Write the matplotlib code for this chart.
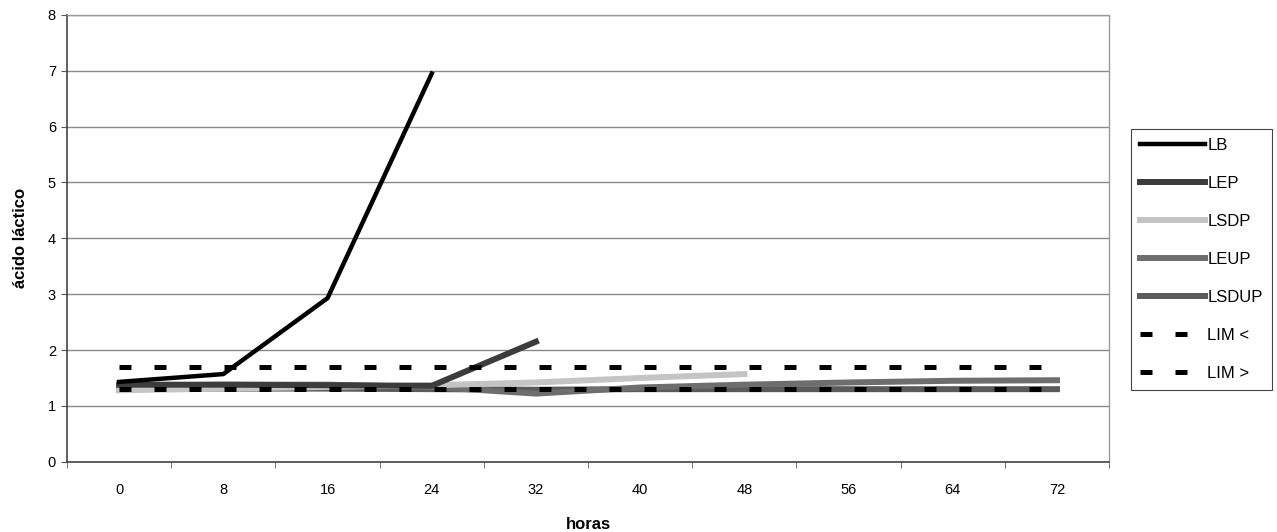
import numpy as np
import matplotlib
matplotlib.use("Agg")
import matplotlib.pyplot as plt

plt.rcParams['font.family'] = ['Liberation Sans', 'DejaVu Sans']

# categories on the x axis (hours)
horas = ['0', '8', '16', '24', '32', '40', '48', '56', '64', '72']

# series values (shorter series stop early)
lb = [1.43, 1.57, 2.93, 6.95]
lep = [1.38, 1.38, 1.37, 1.36, 2.15]
lsdp = [1.28, 1.31, 1.34, 1.37, 1.42, 1.50, 1.57]
leup = [1.36, 1.38, 1.38, 1.34, 1.22, 1.33, 1.38, 1.42, 1.45, 1.46]
lsdup = [1.30, 1.31, 1.31, 1.30, 1.29, 1.30, 1.30, 1.30, 1.30, 1.30]
lim_low = [1.70] * 10
lim_high = [1.31] * 10

fig = plt.figure(figsize=(12.77, 5.32), dpi=100)
ax = fig.add_axes([0.0525, 0.132, 0.816, 0.840])

x = np.arange(len(horas))

dash = (0, (2.4, 4.6))
ax.plot(x[:len(lsdup)], lsdup, color='#5a5a5a', lw=4.3, label='LSDUP', zorder=3)
ax.plot(x[:len(leup)], leup, color='#6e6e6e', lw=4.3, label='LEUP', zorder=3)
ax.plot(x[:len(lsdp)], lsdp, color='#c4c4c4', lw=4.3, label='LSDP', zorder=3)
ax.plot(x[:len(lep)], lep, color='#3c3c3c', lw=4.3, label='LEP', zorder=4)
ax.plot(x[:len(lb)], lb, color='black', lw=3.2, label='LB', zorder=5)
ax.plot(x, lim_low, color='black', lw=3.6, linestyle=dash, label='LIM <', zorder=6)
ax.plot(x, lim_high, color='black', lw=3.6, linestyle=dash, label='LIM >', zorder=6)

ax.set_xlim(-0.5, len(horas) - 0.5)
ax.set_ylim(0, 8)
ax.set_yticks(range(0, 9))
ax.set_xticks(x)
ax.set_xticklabels(horas)
ax.set_xticks(np.arange(-0.5, len(horas), 1), minor=True)
ax.tick_params(axis='x', which='major', length=0, pad=15, labelsize=10.5)
ax.tick_params(axis='x', which='minor', length=4, color='#555555', direction='out')
ax.tick_params(axis='y', length=4, color='#555555', labelsize=10.5, pad=4)

ax.grid(axis='y', color='#8a8a8a', lw=1.0)
ax.set_axisbelow(True)

for side in ['top', 'right']:
    ax.spines[side].set_color('#9a9a9a')
    ax.spines[side].set_linestyle((0, (1, 1)))
    ax.spines[side].set_linewidth(1.0)
for side in ['left', 'bottom']:
    ax.spines[side].set_color('#444444')
    ax.spines[side].set_linewidth(1.2)

ax.set_xlabel('horas', fontsize=12, fontweight='bold', labelpad=15)
ax.set_ylabel('ácido láctico', fontsize=12, fontweight='bold', labelpad=14)

handles, labels = ax.get_legend_handles_labels()
order = ['LB', 'LEP', 'LSDP', 'LEUP', 'LSDUP', 'LIM <', 'LIM >']
hl = dict(zip(labels, handles))
leg = fig.legend([hl[k] for k in order], order, loc='upper left',
                 bbox_to_anchor=(0.879, 0.773), bbox_transform=fig.transFigure,
                 fontsize=12, handlelength=3.9, labelspacing=1.38,
                 handletextpad=0.15, borderpad=0.55, fancybox=False,
                 edgecolor='#444444', framealpha=1)
leg.get_frame().set_linewidth(0.8)

fig.savefig('out.png', dpi=100)
